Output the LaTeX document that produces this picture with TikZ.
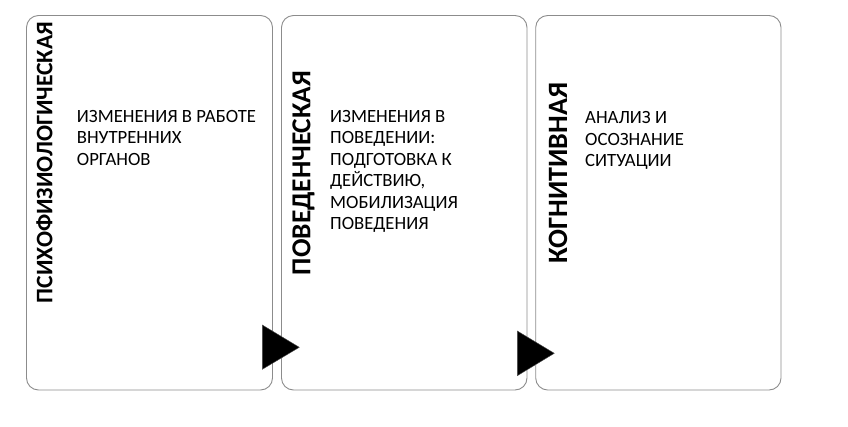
\documentclass[tikz,border=0pt]{standalone}
\usepackage{fontspec}
\setmainfont{Carlito}
\definecolor{boxgray}{HTML}{8C8C8C}
\tikzset{
  x=1pt, y=-1pt,
  card/.style={draw=boxgray, line width=0.9pt, rounded corners=12pt},
  vlabel/.style={rotate=90, inner sep=0pt, font=\bfseries\fontsize{#1}{#1}\selectfont},
  body/.style={anchor=north west, inner sep=0pt, align=left, font=\fontsize{18.7}{21.5}\selectfont},
  tri/.style={fill=black, draw=black!70, line width=0.4pt}
}
\begin{document}
\begin{tikzpicture}
\useasboundingbox (0,0) rectangle (848,426);
% cards
\draw[card] (26.5,15.5) rectangle (272.5,390);
\draw[card] (281.5,15.5) rectangle (527,390);
\draw[card] (535.7,15.5) rectangle (781,390);
% vertical labels
\node[vlabel=23.7] (l1) at (44.5,162.5) {ПСИХОФИЗИОЛОГИЧЕСКАЯ};
\node[vlabel=27.4] (l2) at (303.5,173) {ПОВЕДЕНЧЕСКАЯ};
\node[vlabel=28] (l3) at (558,173) {КОГНИТИВНАЯ};
% body texts
\node[body] (t1) at (76.7,107) {\strut ИЗМЕНЕНИЯ В РАБОТЕ\\ВНУТРЕННИХ\\ОРГАНОВ};
\node[body] (t2) at (330,107) {\strut ИЗМЕНЕНИЯ В\\ПОВЕДЕНИИ:\\ПОДГОТОВКА К\\ДЕЙСТВИЮ,\\МОБИЛИЗАЦИЯ\\ПОВЕДЕНИЯ};
\node[body] (t3) at (585,108.5) {\strut АНАЛИЗ И\\ОСОЗНАНИЕ\\СИТУАЦИИ};
% triangles
\coordinate (a1) at (262.3,325);
\coordinate (b1) at (262.3,369.3);
\coordinate (c1) at (299.3,347.3);
\fill[tri] (a1) -- (c1) -- (b1) -- cycle;
\coordinate (a2) at (517.3,331);
\coordinate (b2) at (517.3,375.7);
\coordinate (c2) at (554.3,353.3);
\fill[tri] (a2) -- (c2) -- (b2) -- cycle;
\end{tikzpicture}
\end{document}
